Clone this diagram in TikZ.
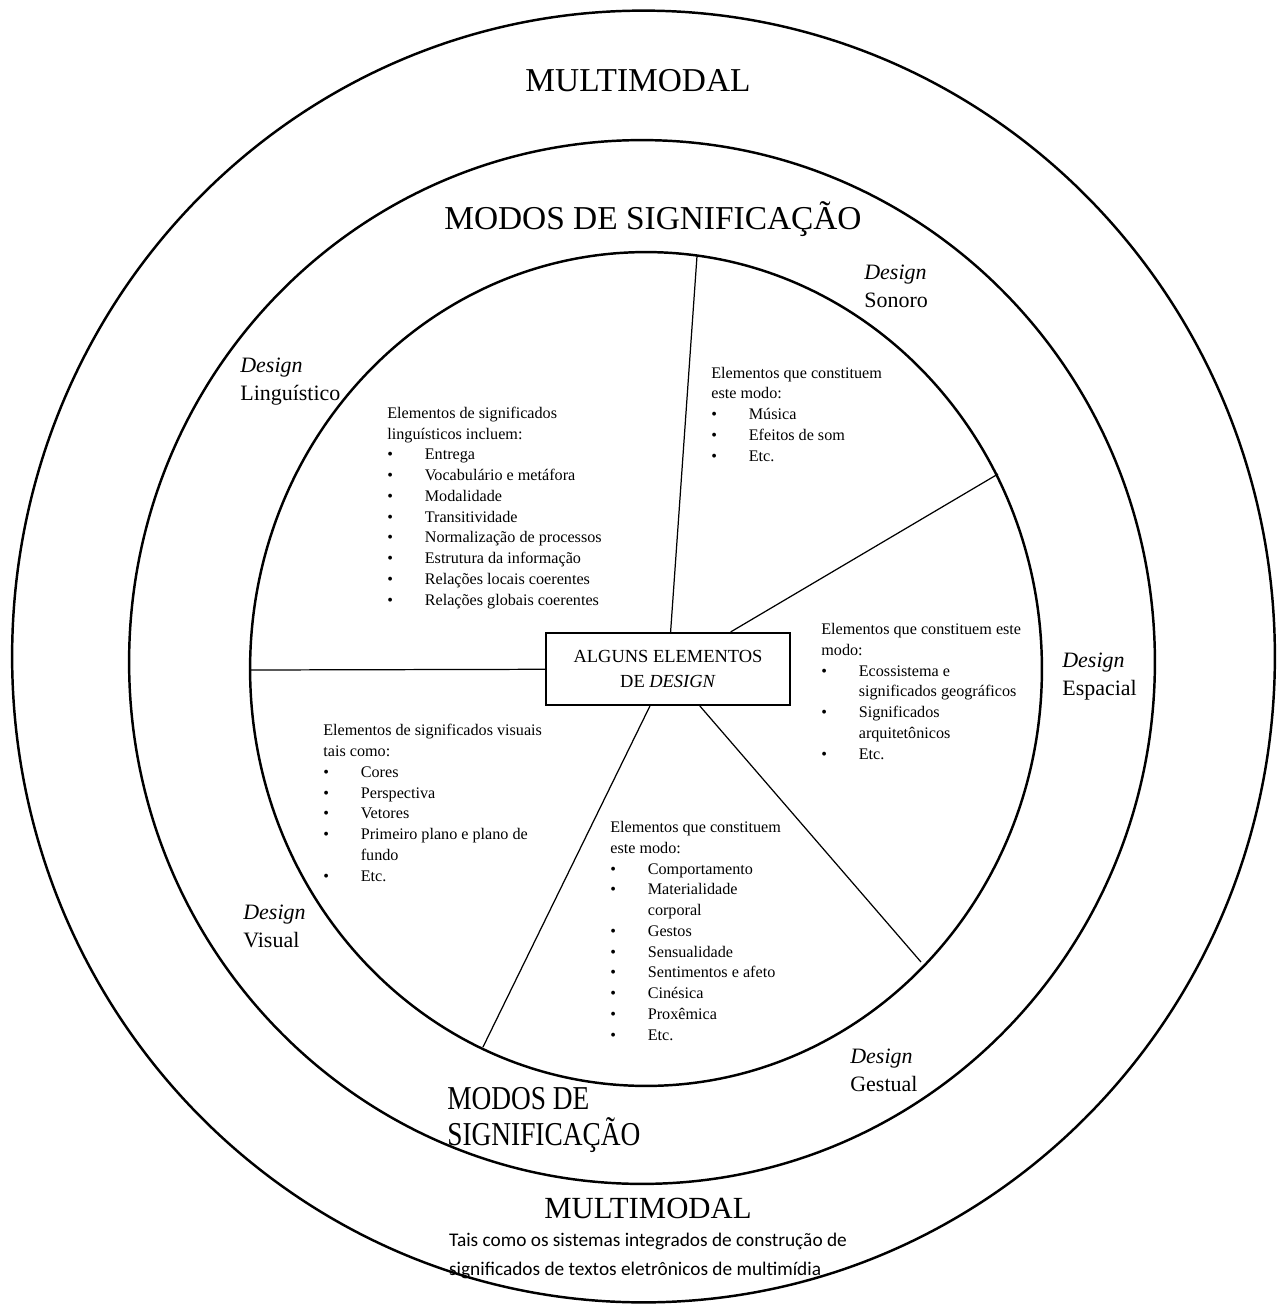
\documentclass[tikz,border=0pt]{standalone}
\usepackage{fontspec}
\setmainfont{Liberation Serif}
\newfontfamily\carlito{Carlito}

\newcommand{\itm}{\makebox[0.75cm][l]{\textbullet}}
\newcommand{\cnt}{\hspace*{0.75cm}}

\begin{document}
\begin{tikzpicture}[x=0.02cm, y=-0.02cm,
  circulo/.style={line width=1.4pt},
  raio/.style={line width=0.7pt},
  titulo/.style={font=\fontsize{19}{23}\selectfont, inner sep=0pt, anchor=base},
  rotulo/.style={font=\fontsize{12.5}{15.6}\selectfont, align=left, anchor=base west, inner sep=0pt},
  lista/.style={font=\fontsize{9.2}{11.8}\selectfont, align=left, anchor=base west, inner sep=0pt},
  moldura/.style={draw, line width=1.2pt, minimum width=4.88cm, minimum height=1.44cm, align=center, font=\fontsize{10.5}{14.2}\selectfont}]

\useasboundingbox (0,0) rectangle (1280,1304);

% Circulos (multimodal, modos, elementos)
\draw[circulo] (643.5,656.5) ellipse [x radius=12.63cm, y radius=12.92cm];
\draw[circulo] (642,662) ellipse [x radius=10.26cm, y radius=10.44cm];
\draw[circulo] (646,669) ellipse [x radius=7.92cm, y radius=8.34cm];

% Caixa central e raios
\node (elementos)         [moldura] at (668,669)     {ALGUNS ELEMENTOS\\DE \textit{DESIGN}};

\coordinate (fim-norte)    at (697,256);
\coordinate (fim-nordeste) at (998,474);
\coordinate (fim-oeste)    at (250,670);
\coordinate (fim-sudoeste) at (483,1047);
\coordinate (fim-sudeste)  at (921,962);

\draw[raio]             (elementos) -- (fim-norte);
\draw[raio]             (elementos) -- (fim-nordeste);
\draw[raio]             (elementos) -- (fim-oeste);
\draw[raio]             (elementos) -- (fim-sudoeste);
\draw[raio]             (elementos) -- (fim-sudeste);

% Titulos (a base fica na ultima linha)
\node (multimodal-topo)   [titulo] at (638,92)       {MULTIMODAL};
\node (modos-topo)        [titulo] at (653,230)      {MODOS DE SIGNIFICAÇÃO};
\node (modos-baixo)       [titulo, anchor=base west, align=left, font=\fontsize{19}{20}\selectfont, xscale=0.82, transform shape] at (447,1145) {MODOS DE\\SIGNIFICAÇÃO};
\node (multimodal-baixo)  [titulo, font=\fontsize{17.5}{20}\selectfont] at (648,1218) {MULTIMODAL};
\node (descricao)         [below of=multimodal-baixo, node distance=0.96cm, align=left, font=\carlito\fontsize{11}{16}\selectfont]
                          {Tais como os sistemas integrados de construção de\\significados de textos eletrônicos de multimídia};

% Rotulos de design
\node (design-sonoro)      [rotulo] at (864,307)     {\textit{Design}\\Sonoro};
\node (design-linguistico) [rotulo] at (240,400)     {\textit{Design}\\Linguístico};
\node (design-espacial)    [rotulo] at (1062,695)    {\textit{Design}\\Espacial};
\node (design-visual)      [rotulo] at (243,947)     {\textit{Design}\\Visual};
\node (design-gestual)     [rotulo] at (850,1091)    {\textit{Design}\\Gestual};

% Listas
\node (lista-linguistico) [lista] at (387,605) {Elementos de significados\\linguísticos incluem:\\\itm Entrega\\\itm Vocabulário e metáfora\\\itm Modalidade\\\itm Transitividade\\\itm Normalização de processos\\\itm Estrutura da informação\\\itm Relações locais coerentes\\\itm Relações globais coerentes};
\node (lista-sonoro)      [lista] at (711,461) {Elementos que constituem\\este modo:\\\itm Música\\\itm Efeitos de som\\\itm Etc.};
\node (lista-espacial)    [lista] at (821,759) {Elementos que constituem este\\modo:\\\itm Ecossistema e\\\cnt significados geográficos\\\itm Significados\\\cnt arquitetônicos\\\itm Etc.};
\node (lista-visual)      [lista] at (323,881) {Elementos de significados visuais\\tais como:\\\itm Cores\\\itm Perspectiva\\\itm Vetores\\\itm Primeiro plano e plano de\\\cnt fundo\\\itm Etc.};
\node (lista-gestual)     [lista] at (610,1040) {Elementos que constituem\\este modo:\\\itm Comportamento\\\itm Materialidade\\\cnt corporal\\\itm Gestos\\\itm Sensualidade\\\itm Sentimentos e afeto\\\itm Cinésica\\\itm Proxêmica\\\itm Etc.};

\end{tikzpicture}
\end{document}
